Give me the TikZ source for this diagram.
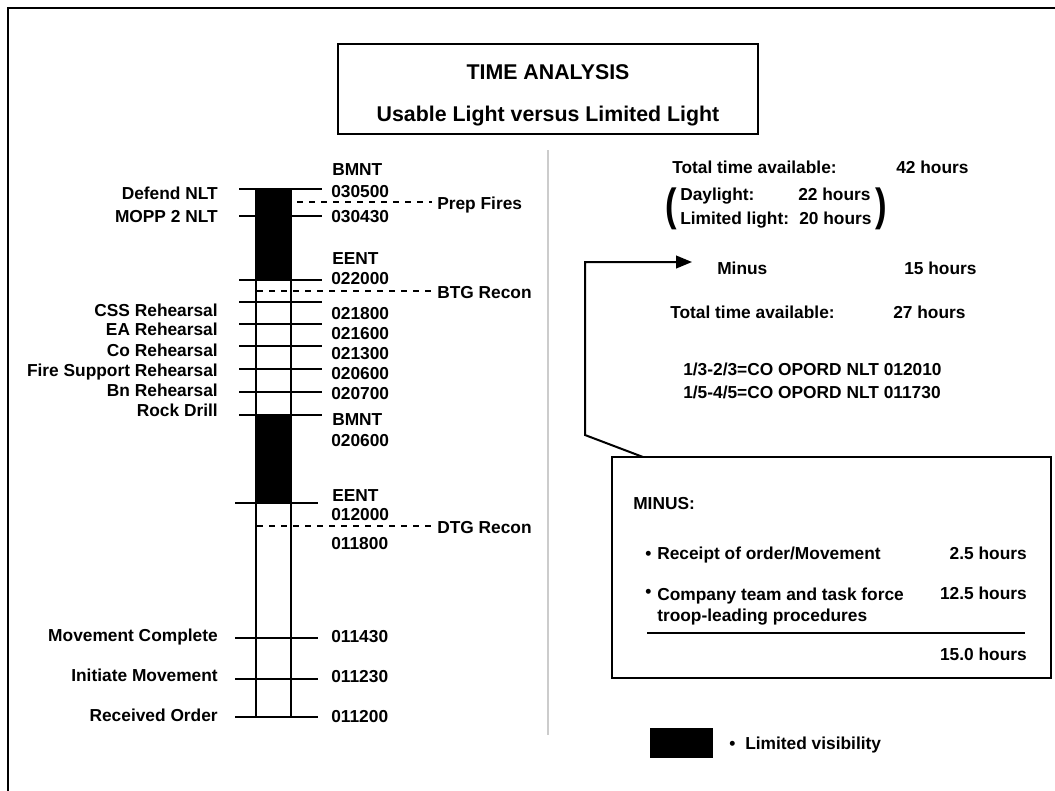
\documentclass[tikz,border=0pt]{standalone}
\usepackage{fontspec}
\setmainfont{Liberation Sans}
\usetikzlibrary{arrows.meta}
\begin{document}
\begin{tikzpicture}[x=0.75pt,y=-0.75pt,
  every node/.style={inner sep=0pt, text height=9.3pt, text depth=0pt, font=\fontsize{13}{14}\selectfont\bfseries},
  ll/.style={anchor=east},
  rl/.style={anchor=west},
  tk/.style={line width=1.5pt},
  dsh/.style={line width=1.5pt, dash pattern=on 4.5pt off 4.5pt},
  big/.style={font=\fontsize{16}{18}\selectfont\bfseries, text height=11.5pt},
  par/.style={font=\fontsize{26}{26}\selectfont\bfseries, yscale=1.3, text height=19pt, text depth=6pt},
  boxline/.style={draw, line width=2pt}]
\useasboundingbox (0,0) rectangle (1055,790);
\clip (0,0) rectangle (1055,790);
% outer frame
\draw[line width=1.5pt] (1070,8) -- (8,8) -- (8,800);
% title
\node[boxline, minimum width=315pt, minimum height=67.5pt] (title) at (548,89) {};
\node[big] (t1) at (548,72) {TIME ANALYSIS};
\node[big] (t2) at (548,114) {Usable Light versus Limited Light};
% divider
\draw[gray!40, line width=1.5pt] (548,150) -- (548,735);
% timeline
\fill (255,189) rectangle (292,280);
\fill (255,415) rectangle (292,503);
\draw[tk] (256,189) -- (256,717);
\draw[tk] (291,189) -- (291,717);
\foreach \yy in {189,216,280,302,324,346,369,392,415}
  \draw[tk] (239,\yy) -- (322,\yy);
\foreach \yy in {503,638,679,717}
  \draw[tk] (235,\yy) -- (318,\yy);
\draw[dsh] (297,202) -- (432,202);
\draw[dsh] (257,291) -- (432,291);
\draw[dsh] (257,526) -- (432,526);
\node[rl] (prep) at (437,203) {Prep Fires};
\node[rl] (btg) at (437,292) {BTG Recon};
\node[rl] (dtg) at (437,527) {DTG Recon};
% left labels
\node[ll] (l1) at (218,193) {Defend NLT};
\node[ll] (l2) at (218,216) {MOPP 2 NLT};
\node[ll] (l3) at (218,310) {CSS Rehearsal};
\node[ll] (l4) at (218,329) {EA Rehearsal};
\node[ll] (l5) at (218,350) {Co Rehearsal};
\node[ll] (l6) at (218,370) {Fire Support Rehearsal};
\node[ll] (l7) at (218,390) {Bn Rehearsal};
\node[ll] (l8) at (218,410) {Rock Drill};
\node[ll] (l9) at (218,635) {Movement Complete};
\node[ll] (l10) at (218,675) {Initiate Movement};
\node[ll] (l11) at (218,715) {Received Order};
% right labels
\node[rl] (r0) at (332,169) {BMNT};
\node[rl] (r1) at (331,191) {030500};
\node[rl] (r2) at (331,216) {030430};
\node[rl] (r3) at (332,258) {EENT};
\node[rl] (r4) at (331,278) {022000};
\node[rl] (r5) at (331,313) {021800};
\node[rl] (r6) at (331,333) {021600};
\node[rl] (r7) at (331,353) {021300};
\node[rl] (r8) at (331,373) {020600};
\node[rl] (r9) at (331,393) {020700};
\node[rl] (r10) at (332,419) {BMNT};
\node[rl] (r11) at (331,440) {020600};
\node[rl] (r12) at (332,495) {EENT};
\node[rl] (r13) at (331,514) {012000};
\node[rl] (r14) at (331,543) {011800};
\node[rl] (r15) at (331,636) {011430};
\node[rl] (r16) at (331,676) {011230};
\node[rl] (r17) at (331,716) {011200};
% right side
\node[rl] (tt1) at (672,167) {Total time available:};
\node[rl] (h42) at (896,167) {42 hours};
\node[rl] (dl) at (680,194) {Daylight:};
\node[rl] (h22) at (798,194) {22 hours};
\node[rl] (lt) at (680,218) {Limited light:};
\node[rl] (h20) at (799,218) {20 hours};
\node[par] (lp) at (671,209) {(};
\node[par] (rp) at (881,209) {)};
\node[rl] (minus) at (717,268) {Minus};
\node[rl] (h15) at (904,268) {15 hours};
\node[rl] (tt2) at (670,312) {Total time available:};
\node[rl] (h27) at (893,312) {27 hours};
\node[rl] (op1) at (683,369) {1/3-2/3=CO OPORD NLT 012010};
\node[rl] (op2) at (683,392) {1/5-4/5=CO OPORD NLT 011730};
% callout box
\node[boxline, minimum width=329.25pt, minimum height=165.75pt, text height=0pt] (mbox) at (831.5,567.5) {};
\coordinate (cb) at (643,457);
\coordinate (tip) at (692,262);
\draw[line width=1.5pt, -{Triangle[length=12pt,width=9.5pt]}] (cb) -- (585,435) -- (585,262) -- (tip);
\node[rl] (mh) at (633,503) {MINUS:};
\node[rl] (b1) at (645,553) {\textbullet};
\node[rl] (i1) at (657,553) {Receipt of order/Movement};
\node[ll] (v1) at (1027,553) {2.5 hours};
\node[rl] (b2) at (645,591) {\textbullet};
\node[rl] (i2) at (657,594) {Company team and task force};
\node[rl] (i3) at (657,615) {troop-leading procedures};
\node[ll] (v2) at (1027,593) {12.5 hours};
\draw[line width=1.5pt] (647,633) -- (1025,633);
\node[ll] (v3) at (1027,654) {15.0 hours};
% legend
\fill (650,728) rectangle (713,758);
\node[rl] (lb) at (729,743) {\textbullet};
\node[rl] (lv) at (745,743) {Limited visibility};
\end{tikzpicture}
\end{document}
